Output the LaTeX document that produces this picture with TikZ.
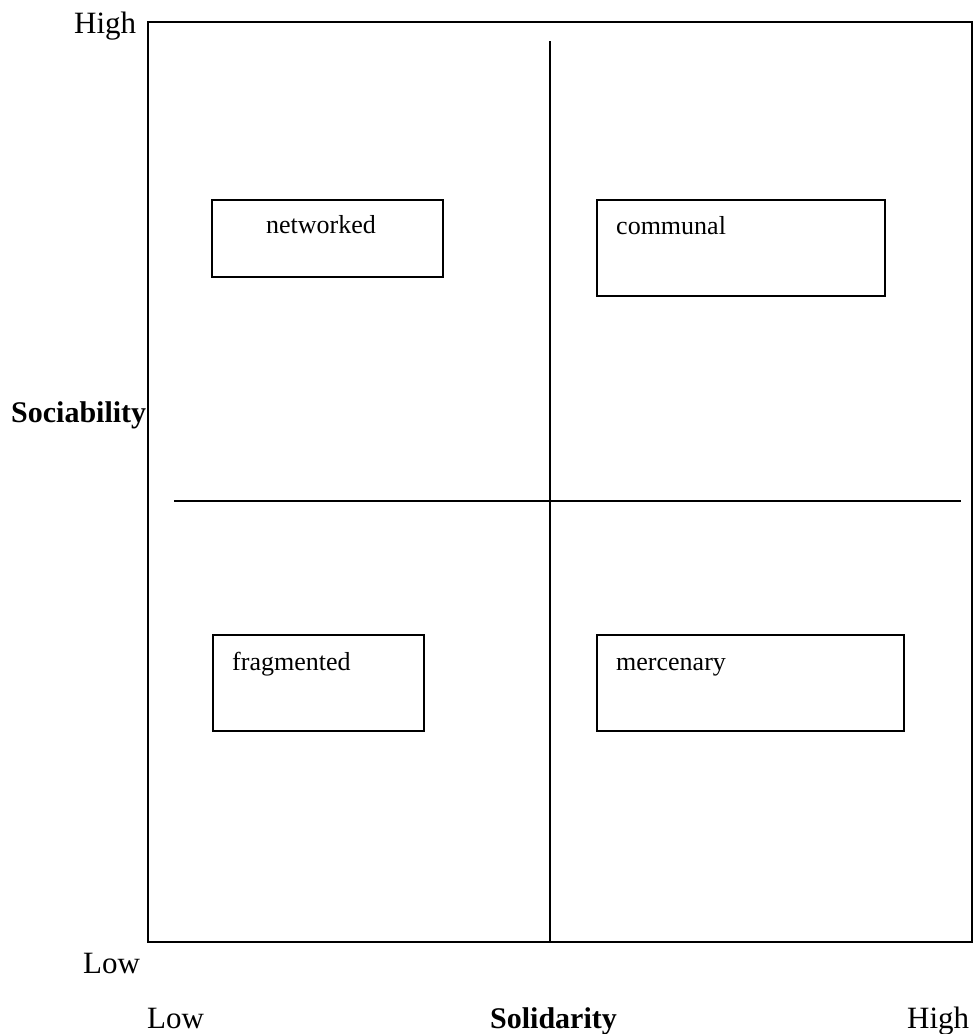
\documentclass[tikz,border=0pt]{standalone}
\usepackage{fontspec}
\setmainfont{Liberation Serif}
\begin{document}
\begin{tikzpicture}[x=1pt,y=-1pt,
  frame/.style={line width=1.6pt},
  quad/.style={draw,line width=1.6pt,rectangle,inner sep=0pt,anchor=north west},
  axislbl/.style={anchor=base west,inner sep=0pt,font=\fontsize{31}{31}\selectfont},
  axisname/.style={anchor=base west,inner sep=0pt,font=\fontsize{30}{30}\selectfont\bfseries},
  boxtxt/.style={anchor=base west,inner sep=0pt,font=\fontsize{26}{26}\selectfont}]
\useasboundingbox (0,0) rectangle (974,1034);
% frame
\coordinate (tl) at (148,22);
\coordinate (br) at (972,942);
\draw[frame] (tl) rectangle (br);
% dividers
\coordinate (vtop) at (550,41);
\coordinate (vbot) at (550,942);
\coordinate (hl) at (174,501);
\coordinate (hr) at (961,501);
\draw[frame] (vtop) -- (vbot);
\draw[frame] (hl) -- (hr);
% quadrant boxes
\node[quad,minimum width=231,minimum height=77] (netbox) at (211,199) {};
\node[boxtxt] (net) at (266,233) {networked};
\node[quad,minimum width=288,minimum height=96] (combox) at (596,199) {};
\node[boxtxt] (com) at (616,234) {communal};
\node[quad,minimum width=211,minimum height=96] (fragbox) at (212,634) {};
\node[boxtxt] (frag) at (232,670) {fragmented};
\node[quad,minimum width=307,minimum height=96] (merbox) at (596,634) {};
\node[boxtxt] (mer) at (616,670) {mercenary};
% axis labels
\node[axislbl] (yhigh) at (74,33) {High};
\node[axisname] (ysoc) at (11,422) {Sociability};
\node[axislbl] (ylow) at (83,973) {Low};
\node[axislbl] (xlow) at (147,1028) {Low};
\node[axisname] (xsol) at (490,1028) {Solidarity};
\node[axislbl] (xhigh) at (907,1028) {High};
\end{tikzpicture}
\end{document}
